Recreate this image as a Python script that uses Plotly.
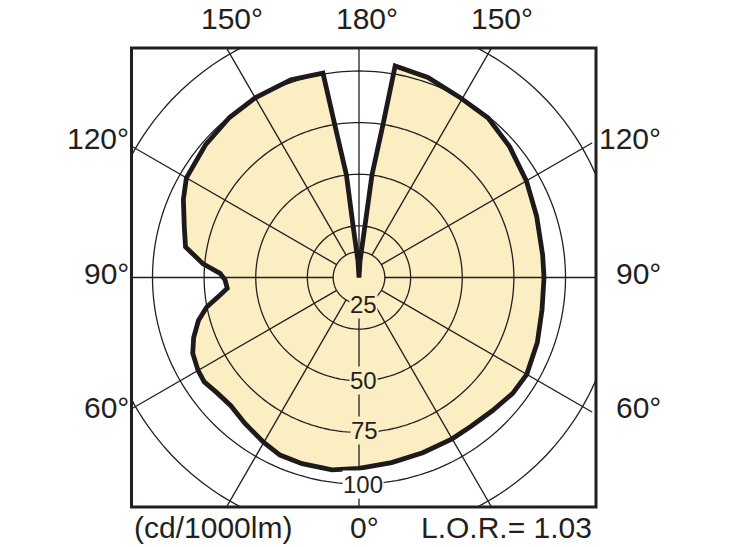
import numpy as np
import plotly.graph_objects as go

# ---------------- data ----------------
# angle in degrees: 0 = down, 90 = right, 180 = up, 270 = left
ANGLE_DEG = [0, 10, 20, 30, 37, 45, 53, 60, 70, 80, 90, 97, 109, 120, 131, 141,
             151, 161, 170.3, 171.1, 172.8, 173.5, 176.5, 180, 183.5, 186.5, 187,
             189, 190, 199, 210, 219, 229, 240, 246, 254, 260, 265, 268.3, 271,
             274.7, 277.2, 281, 285, 290, 294.5, 300, 304, 309, 315, 322, 330,
             336, 343, 352, 360]
# luminous intensity in cd/1000lm
INTENSITY = [92.4, 91.0, 90.3, 90.2, 90.2, 91.3, 93.2, 93.8, 91.9, 90.0, 89.6,
             89.6, 91.0, 93.6, 96.6, 99.4, 100.0, 102.5, 103.9, 74.8, 50.0, 24.2,
             8.0, 0.0, 8.0, 24.2, 50.0, 74.8, 100.5, 101.3, 100.5, 99.7, 98.3,
             96.5, 93.1, 88.0, 85.3, 75.8, 67.3, 64.9, 64.0, 67.8, 75.1, 80.5,
             85.2, 88.5, 90.0, 90.4, 88.6, 87.8, 89.7, 92.2, 94.1, 94.3, 94.1, 92.4]

RING_VALUES = [12.5, 25, 50, 75, 100, 125]
SPOKE_ANGLES = list(range(0, 360, 30))
RING_LABELS = ["25", "50", "75", "100"]
TOP_LABELS = ["150°", "180°", "150°"]
SIDE_LABELS = ["120°", "90°", "60°"]
UNIT_LABEL = "(cd/1000lm)"
ZERO_LABEL = "0°"
LOR_LABEL = "L.O.R.= 1.03"

# ---------------- geometry / style ----------------
W, H = 729, 547
CX, CY = 359.0, 277.5          # centre of the diagram (px from top-left)
PX_PER_UNIT = 2.065
R_PX = H - CY
R_MAX = R_PX / PX_PER_UNIT
BOX_L, BOX_T, BOX_R, BOX_B = 131.5, 48.0, 596.0, 507.0

DARK = "#231F20"
FILL = "#FBEEC2"
FONT = "Liberation Sans, Arial, sans-serif"


def px(x):
    return x / W


def py(y):
    return 1 - y / H


fig = go.Figure()

# filled light distribution
fig.add_trace(go.Scatterpolar(
    r=INTENSITY, theta=ANGLE_DEG, mode="lines", fill="toself",
    fillcolor=FILL, line=dict(width=0, color=FILL), hoverinfo="skip",
    showlegend=False))

# grid rings
ring_r, ring_t = [], []
circle_t = np.linspace(0, 360, 241)
for v in RING_VALUES:
    ring_r += [v] * len(circle_t) + [None]
    ring_t += list(circle_t) + [None]
fig.add_trace(go.Scatterpolar(
    r=ring_r, theta=ring_t, mode="lines",
    line=dict(width=1.3, color=DARK), hoverinfo="skip", showlegend=False))

# grid spokes
sp_r, sp_t = [], []
for a in SPOKE_ANGLES:
    sp_r += [RING_VALUES[0], R_MAX, None]
    sp_t += [a, a, None]
fig.add_trace(go.Scatterpolar(
    r=sp_r, theta=sp_t, mode="lines",
    line=dict(width=1.3, color=DARK), hoverinfo="skip", showlegend=False))

# outline of the distribution
fig.add_trace(go.Scatterpolar(
    r=INTENSITY, theta=ANGLE_DEG, mode="lines",
    line=dict(width=4.8, color="#1E1A1B"), hoverinfo="skip", showlegend=False))

axis_off = dict(showgrid=False, showline=False, showticklabels=False, ticks="")
fig.update_layout(
    width=W, height=H, margin=dict(l=0, r=0, t=0, b=0),
    paper_bgcolor="white", plot_bgcolor="white", showlegend=False,
    polar=dict(
        domain=dict(x=[px(CX - R_PX), px(CX + R_PX)], y=[0, 2 * R_PX / H]),
        bgcolor="rgba(0,0,0,0)",
        radialaxis=dict(range=[0, R_MAX], **axis_off),
        angularaxis=dict(rotation=-90, direction="counterclockwise", **axis_off),
    ),
)

# white masks outside the frame, then the frame
shapes = []
for x0, y0, x1, y1 in [(0, 0, px(BOX_L), 1), (px(BOX_R), 0, 1, 1),
                       (0, py(BOX_T), 1, 1), (0, 0, 1, py(BOX_B))]:
    shapes.append(dict(type="rect", xref="paper", yref="paper", x0=x0, y0=y0,
                       x1=x1, y1=y1, fillcolor="white", line=dict(width=0),
                       layer="above"))
shapes.append(dict(type="rect", xref="paper", yref="paper",
                   x0=px(BOX_L), y0=py(BOX_B), x1=px(BOX_R), y1=py(BOX_T),
                   line=dict(width=3, color=DARK), fillcolor="rgba(0,0,0,0)",
                   layer="above"))
fig.update_layout(shapes=shapes)

ann = []


def add_text(text, x, y, size, xanchor="center", bg=None):
    d = dict(text=text, x=px(x), y=py(y), xref="paper", yref="paper",
             showarrow=False, xanchor=xanchor, yanchor="middle",
             font=dict(family=FONT, size=size, color=DARK), borderpad=0)
    if bg:
        d["bgcolor"] = bg
    ann.append(d)


# ring labels
for lab, (x, y), bg in zip(RING_LABELS,
                           [(363, 305), (363.5, 380), (364, 430), (363, 485)],
                           [FILL, FILL, FILL, "white"]):
    add_text(lab, x, y, 24, bg=bg)

# degree labels
for lab, x in zip(TOP_LABELS, [232, 367, 502]):
    add_text(lab, x, 19, 30)
for lab, y in zip(SIDE_LABELS, [138, 273, 407]):
    add_text(lab, 130, y, 30, xanchor="right")
    add_text(lab, 662, y, 30, xanchor="right")

add_text(UNIT_LABEL, 133, 527, 30, xanchor="left")
add_text(ZERO_LABEL, 364, 527, 30)
add_text(LOR_LABEL, 593, 527, 30, xanchor="right")

fig.update_layout(annotations=ann)
fig.write_html(
    "out.html",
    config={"displayModeBar": False},
    post_script="document.body.style.margin='0px';"
                "document.body.style.overflow='hidden';")
